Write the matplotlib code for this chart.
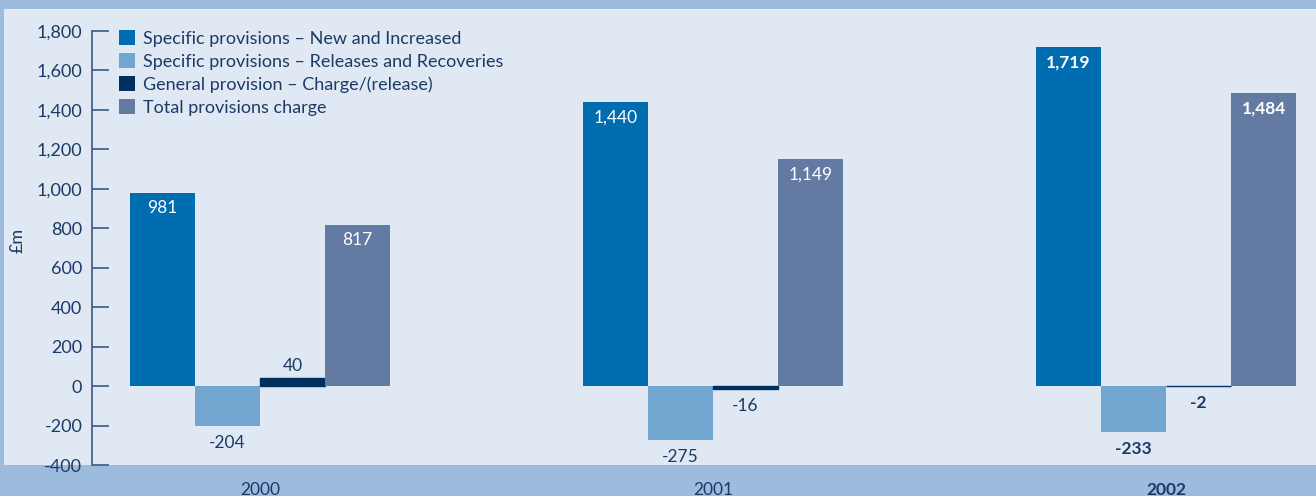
import numpy as np
import matplotlib
matplotlib.use('Agg')
import matplotlib.pyplot as plt
from matplotlib.patches import Rectangle, Patch

# data (GBP m)
years = ['2000', '2001', '2002']
new_increased = [981, 1440, 1719]
releases = [-204, -275, -233]
general = [40, -16, -2]
total = [817, 1149, 1484]

series = [new_increased, releases, general, total]
names = ['Specific provisions \u2013 New and Increased',
         'Specific provisions \u2013 Releases and Recoveries',
         'General provision \u2013 Charge/(release)',
         'Total provisions charge']
colors = ['#006db0', '#72a5d0', '#00305f', '#637ba3']
label_pos = ['in', 'out', 'out', 'in']   # where value labels go

outer = '#9dbbdd'
panel = '#e0e9f3'
navy = '#1c3a66'

plt.rcParams['font.family'] = ['Lato', 'DejaVu Sans']

W, H = 1316, 496
fig = plt.figure(figsize=(W/100, H/100), dpi=100, facecolor=outer)
# light panel behind the plot
fig.patches.append(Rectangle((4/W, (H-465)/H), 1-4/W, (465-9)/H,
                             transform=fig.transFigure, facecolor=panel,
                             edgecolor='none', zorder=-10))

ax = fig.add_axes([92/W, (H-465)/H, 1-92/W, (465-31)/H])
ax.set_facecolor('none')
ax.set_zorder(1)

x = np.arange(len(years))
w = 65/453
for i, (vals, c) in enumerate(zip(series, colors)):
    xs = x + (i-1.5)*w
    # thin edge on the general provision so tiny values stay visible
    lw = 1.0 if i == 2 else 0
    ax.bar(xs, vals, w, color=c, edgecolor=c, linewidth=lw, label=names[i], zorder=2)
    for j, v in enumerate(vals):
        bold = 'bold' if j == 2 else 'normal'
        txt = '{:,}'.format(v)
        if label_pos[i] == 'in':
            ax.annotate(txt, (xs[j], v), xytext=(0, -11), textcoords='offset points',
                        ha='center', va='center', color='white', fontsize=12.5,
                        fontweight=bold)
        else:
            if v >= 0:
                ax.annotate(txt, (xs[j], v), xytext=(0, 9), textcoords='offset points',
                            ha='center', va='center', color=navy, fontsize=12.5,
                            fontweight=bold)
            else:
                ax.annotate(txt, (xs[j], v), xytext=(0, -12), textcoords='offset points',
                            ha='center', va='center', color=navy, fontsize=12.5,
                            fontweight=bold)

ax.set_xlim(-0.371, 2.331)
ax.set_ylim(-400, 1800)
yt = np.arange(-400, 1801, 200)
ax.set_yticks(yt)
ax.set_yticklabels(['{:,}'.format(v) for v in yt], fontsize=13, color=navy)
ax.tick_params(axis='y', direction='in', length=12, width=1.2, color='#3a5a85', pad=7)
ax.set_xticks(x)
ax.set_xticklabels(years, fontsize=12.5, color=navy)
ax.get_xticklabels()[2].set_fontweight('bold')
ax.tick_params(axis='x', length=0, pad=12)

for s in ['top', 'right', 'bottom']:
    ax.spines[s].set_visible(False)
ax.spines['left'].set_color('#3a5a85')
ax.spines['left'].set_linewidth(1.2)

fig.text(18/W, 1-240/H, '\u00a3m', rotation=90, ha='center', va='center',
         fontsize=13, color=navy)

handles = [Patch(facecolor=c, edgecolor='none') for c in colors]
fig.legend(handles, names, loc='upper left', bbox_to_anchor=(119/W, 1-30/H),
           frameon=False, fontsize=13, handlelength=0.9, handleheight=0.9,
           handletextpad=0.45, labelspacing=0.35, borderaxespad=0, borderpad=0,
           labelcolor=navy)

fig.savefig('out.png', dpi=100, facecolor=outer)
